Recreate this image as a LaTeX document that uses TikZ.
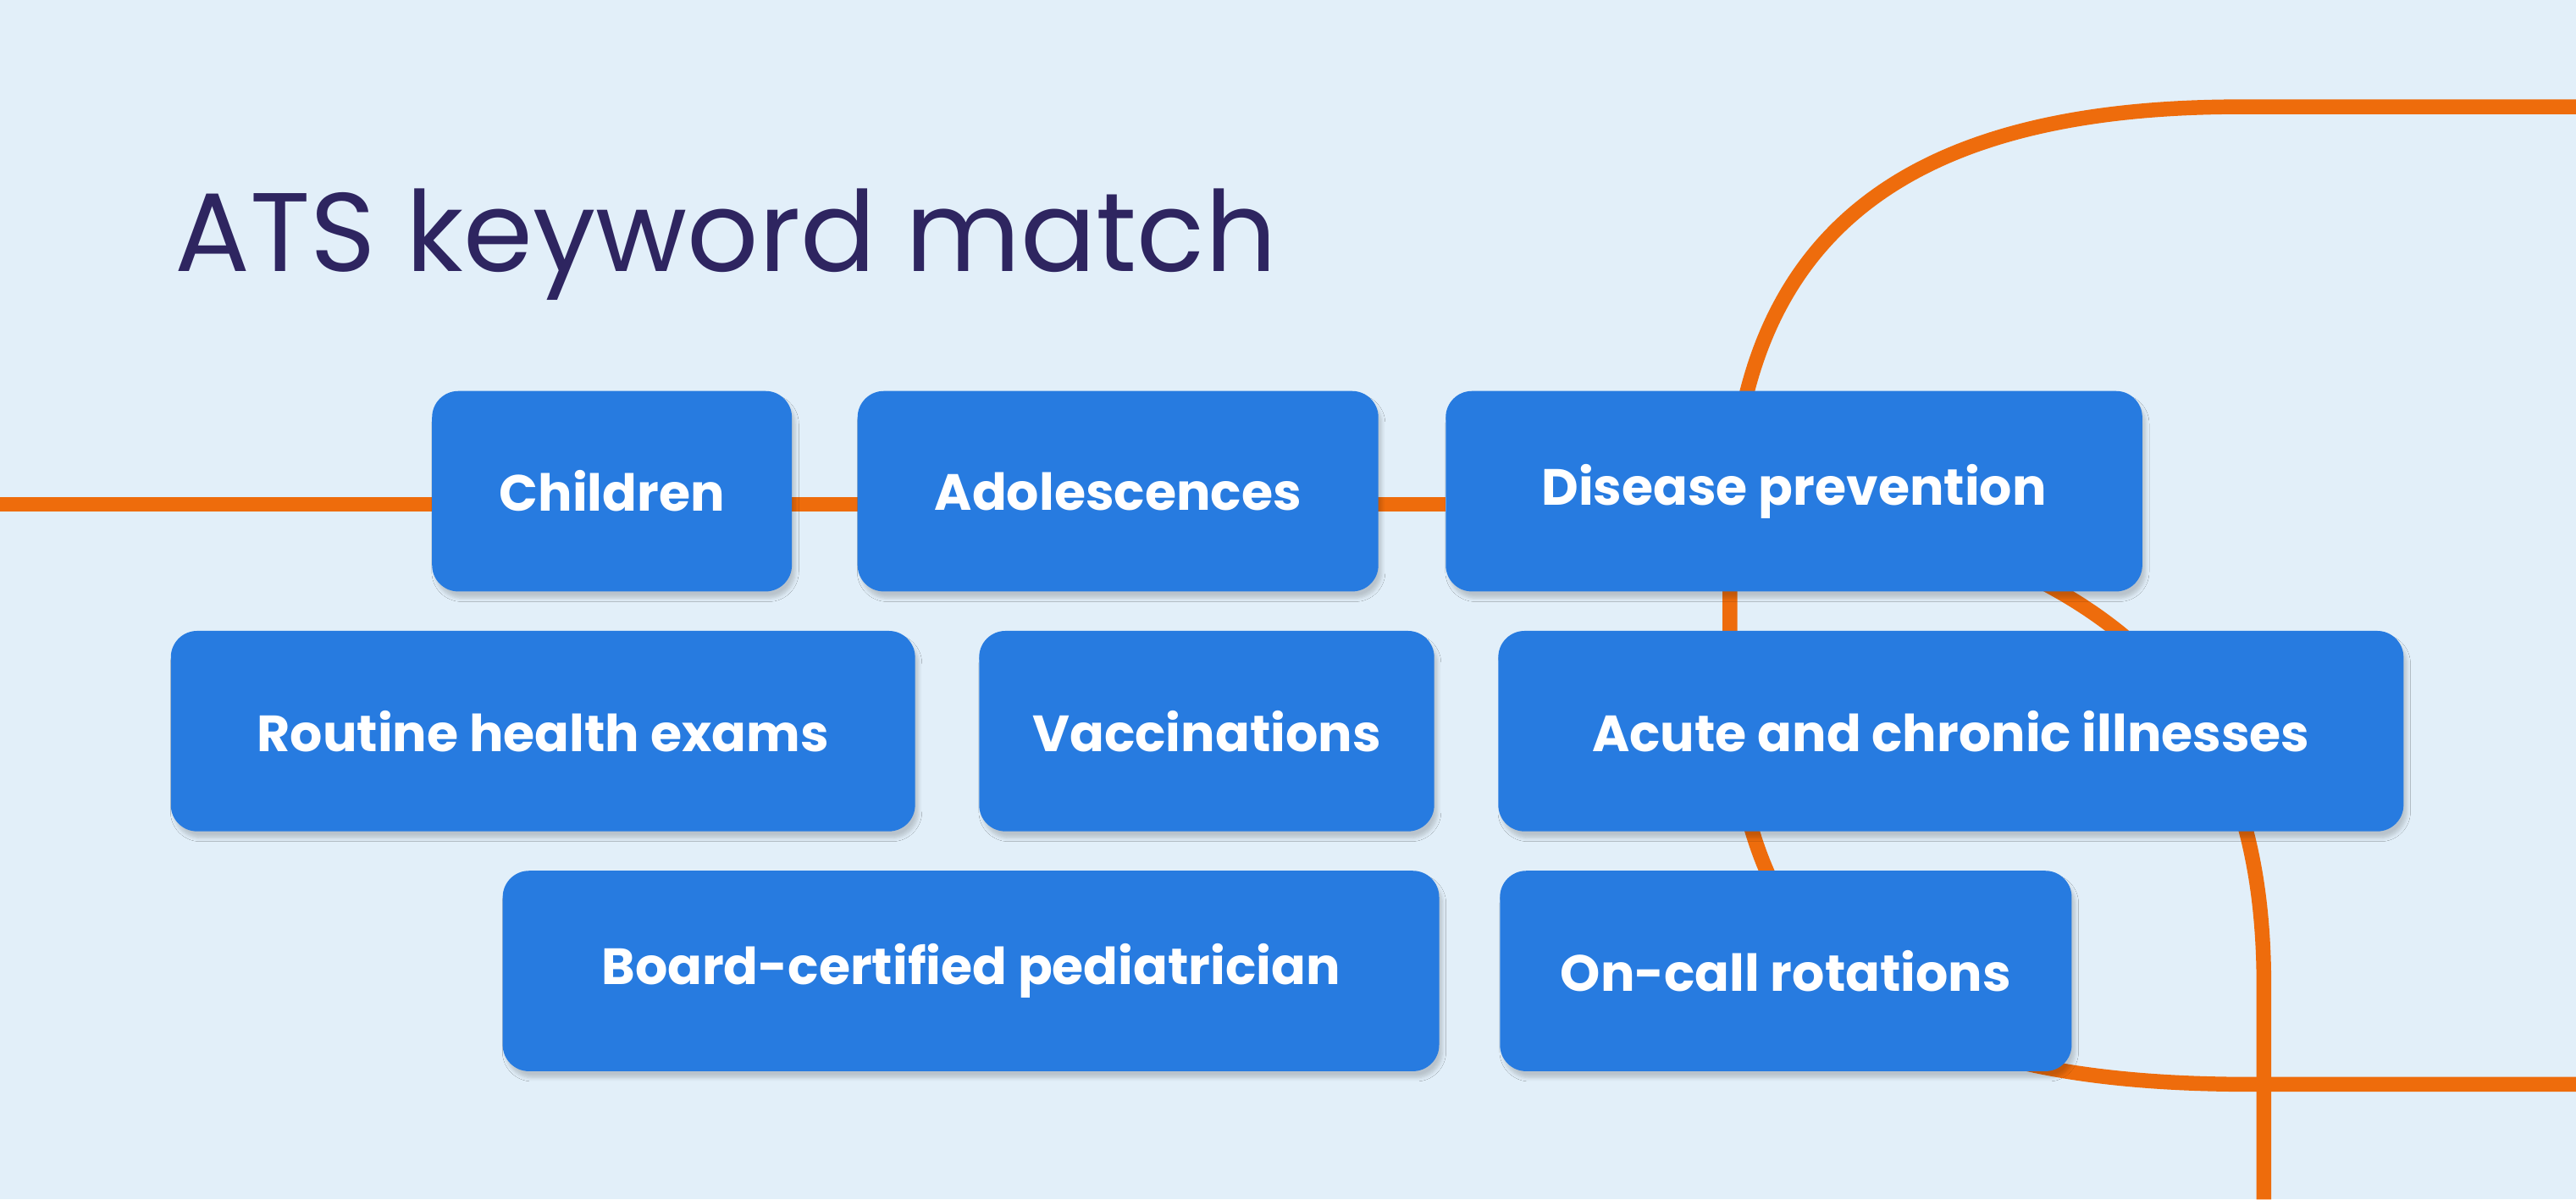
\documentclass[tikz,border=0pt]{standalone}
\usepackage{fontspec}
\setmainfont{Poppins}
\usetikzlibrary{shadows.blur}
\definecolor{bg}{HTML}{E2EFF9}
\definecolor{or}{HTML}{EE6C0C}
\definecolor{bx}{HTML}{277BE0}
\definecolor{ttl}{HTML}{2E2560}
\tikzset{
  tag/.style={fill=bx, rounded corners=16pt, text=white, font=\fontsize{31}{36}\selectfont\bfseries, inner sep=0pt, minimum height=122pt, blur shadow={shadow blur steps=6, shadow xshift=2pt, shadow yshift=-4pt, shadow opacity=18}},
  wire/.style={draw=or, line width=9pt}
}
\begin{document}
\begin{tikzpicture}[x=1pt,y=-1pt]
\fill[bg] (0,0) rectangle (1568,730);
\useasboundingbox (0,0) rectangle (1568,730);
\coordinate (l0) at (0,307);
\coordinate (l1) at (880,307);
\draw[wire] (l0) -- (l1);
\coordinate (t0) at (1568,65);
\coordinate (t1) at (1364,65);
\coordinate (b1) at (1370,660);
\coordinate (b0) at (1568,660);
\draw[wire] (t0) -- (t1) .. controls (1150,65) and (1053,150) .. (1053,330) -- (1053,400) .. controls (1053,590) and (1150,660) .. (b1) -- (b0);
\coordinate (s0) at (1200,335);
\coordinate (s1) at (1378,730);
\draw[wire] (s0) .. controls (1330,385) and (1378,470) .. (1378,600) -- (s1);
\node[anchor=base west, text=ttl, font=\fontsize{68}{80}\selectfont] (title) at (103,165) {ATS keyword match};
\node[tag, minimum width=219pt] (c) at (372.5,299) {Children};
\node[tag, minimum width=317pt] (a) at (680.5,299) {Adolescences};
\node[tag, minimum width=424pt] (d) at (1092,299) {Disease prevention};
\node[tag, minimum width=453pt] (r) at (330.5,445) {Routine health exams};
\node[tag, minimum width=277pt] (v) at (734.5,445) {Vaccinations};
\node[tag, minimum width=551pt] (ac) at (1187.5,445) {Acute and chronic illnesses};
\node[tag, minimum width=570pt] (bo) at (591,591) {Board-certified pediatrician};
\node[tag, minimum width=348pt] (on) at (1087,591) {On-call rotations};
\end{tikzpicture}
\end{document}
